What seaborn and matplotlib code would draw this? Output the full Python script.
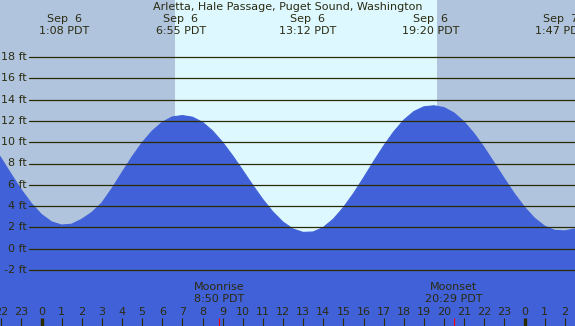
import seaborn as sns
import matplotlib.pyplot as plt
import matplotlib.transforms as mtransforms
import numpy as np
import pandas as pd

# Tide heights (ft), every half hour (hours from midnight Sep 6)
hours = np.arange(-2.5, 27.01, 0.5)
heights = [9.93, 8.47, 6.97, 5.52, 4.24, 3.21, 2.52, 2.22, 2.30, 2.76,
           3.40, 4.30, 5.65, 7.15, 8.62, 9.95, 11.05, 11.87, 12.37, 12.50,
           12.35, 11.87, 11.06, 9.99, 8.72, 7.35, 5.95, 4.62, 3.45, 2.50,
           1.85, 1.53, 1.57, 1.99, 2.77, 3.86, 5.17, 6.64, 8.17, 9.64,
           10.97, 12.07, 12.87, 13.32, 13.42, 13.25, 12.74, 11.91, 10.80, 9.49,
           8.04, 6.57, 5.16, 3.90, 2.86, 2.12, 1.72, 1.67, 1.85, 2.20]

# High / low tide events
event_times = [1.133, 6.917, 13.2, 19.333, 25.783]
event_dates = ["Sep  6", "Sep  6", "Sep  6", "Sep  6", "Sep  7"]
event_labels = ["1:08 PDT", "6:55 PDT", "13:12 PDT", "19:20 PDT", "1:47 PDT"]

# Moon events
moon_times = [8.833, 20.483]
moon_names = ["Moonrise", "Moonset"]
moon_labels = ["8:50 PDT", "20:29 PDT"]

sunrise, sunset = 6.63, 19.65
ft_levels = list(range(-2, 19, 2))
title = "Arletta, Hale Passage, Puget Sound, Washington"

df = pd.DataFrame({"hour": hours, "height": heights})

W, H = 575, 326
x0, x1 = -41.5 / 20.125, (W - 41.5) / 20.125
y0, y1 = -(H - 248.7) / 10.65, 248.7 / 10.65

night_c = "#b0c4de"
day_c = "#ddf8ff"
water_c = "#4161d8"
line_c = "#2b2b00"
text_c = "#2b2b10"

sns.set_style("white")
plt.rcParams["font.family"] = ["DejaVu Sans"]

fig = plt.figure(figsize=(W / 100, H / 100), dpi=100)
ax = fig.add_axes([0, 0, 1, 1])
ax.set_xlim(x0, x1)
ax.set_ylim(y0, y1)
ax.set_axis_off()

# day / night background
ax.axvspan(x0, sunrise, color=night_c, lw=0, zorder=0)
ax.axvspan(sunrise, sunset, color=day_c, lw=0, zorder=0)
ax.axvspan(sunset, x1, color=night_c, lw=0, zorder=0)

# tide curve
sns.lineplot(data=df, x="hour", y="height", color=water_c, lw=0.8, ax=ax, zorder=2)
ax.fill_between(df["hour"], y0, df["height"], color=water_c, lw=0, zorder=2)

# height grid lines and labels
lab_tr = mtransforms.blended_transform_factory(ax.transAxes, ax.transData)
for lv in ft_levels:
    ax.axhline(lv, xmin=29 / W, xmax=1, color=line_c, lw=0.9, zorder=3)
    ax.text(27 / W, lv, f"{lv} ft", transform=lab_tr, ha="right", va="center",
            fontsize=8, color=text_c, zorder=4)

xt = ax.get_xaxis_transform()

# event labels at top
for t, d, lab in zip(event_times, event_dates, event_labels):
    ax.text(t, 1 - 19 / H, d, transform=xt, ha="center", va="center", fontsize=8, color=text_c)
    ax.text(t, 1 - 31 / H, lab, transform=xt, ha="center", va="center", fontsize=8, color=text_c)

fig.text(0.5, 1 - 7.5 / H, title, ha="center", va="center", fontsize=8, color=text_c)

# hour ticks along the bottom
for hr in range(-2, 27):
    ax.text(hr, 1 - 312 / H, str(hr % 24), transform=xt, ha="center", va="center",
            fontsize=8, color=text_c, zorder=4)
    ax.vlines(hr, 0, 8 / H, transform=xt, color=line_c,
              lw=2.4 if hr % 24 == 0 else 0.8, zorder=4)

# moon events
for t, name, lab in zip(moon_times, moon_names, moon_labels):
    ax.text(t, 1 - 287 / H, name, transform=xt, ha="center", va="center", fontsize=8, color=text_c, zorder=4)
    ax.text(t, 1 - 299 / H, lab, transform=xt, ha="center", va="center", fontsize=8, color=text_c, zorder=4)
    ax.vlines(t, 0, 8 / H, transform=xt, color="red", lw=0.8, zorder=4)

if ax.get_legend():
    ax.get_legend().remove()

fig.savefig("out.png", dpi=100)
